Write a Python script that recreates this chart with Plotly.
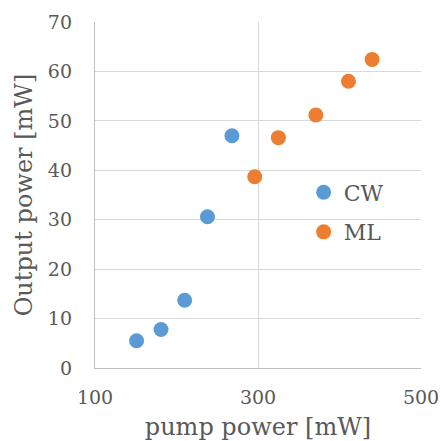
import plotly.graph_objects as go

cw_x = [151, 181, 210, 238, 268]
cw_y = [5.5, 7.8, 13.7, 30.6, 47.0]
ml_x = [296, 325, 371, 411, 440]
ml_y = [38.7, 46.6, 51.2, 58.0, 62.4]

font_fam = "DejaVu Serif"
gray = "#595959"

fig = go.Figure()
fig.add_trace(go.Scatter(x=cw_x, y=cw_y, mode="markers", name="CW", legendgroup="a",
                         marker=dict(color="#5B9BD5", size=15)))
fig.add_trace(go.Scatter(x=ml_x, y=ml_y, mode="markers", name="ML", legendgroup="b",
                         marker=dict(color="#ED7D31", size=15)))

fig.update_layout(
    width=441, height=441,
    margin=dict(l=95, r=20, t=22, b=73, autoexpand=False),
    plot_bgcolor="white", paper_bgcolor="white",
    font=dict(family=font_fam, size=20, color=gray),
    showlegend=True,
    legend=dict(x=0.64, y=0.568, xanchor="left", yanchor="top",
                bgcolor="rgba(0,0,0,0)", font=dict(size=22, color=gray),
                itemwidth=30, tracegroupgap=8),
)
fig.update_xaxes(range=[100, 500], dtick=200, tick0=100, automargin=False,
                 showgrid=True, gridcolor="#D9D9D9", gridwidth=1.3,
                 showline=True, linecolor="#BFBFBF", linewidth=1.3,
                 zeroline=False, ticks="", ticklabelstandoff=12,
                 title=dict(text="pump power [mW]", standoff=11,
                            font=dict(size=24, color=gray)),
                 tickfont=dict(size=19, color=gray))
fig.update_yaxes(range=[0, 70], dtick=10, automargin=False,
                 showgrid=True, gridcolor="#D9D9D9", gridwidth=1.3,
                 showline=True, linecolor="#BFBFBF", linewidth=1.3,
                 zeroline=False, ticks="", ticklabelstandoff=18,
                 title=dict(text="Output power [mW]", standoff=8,
                            font=dict(size=24, color=gray)),
                 tickfont=dict(size=19, color=gray))

fig.write_html("out.html")
